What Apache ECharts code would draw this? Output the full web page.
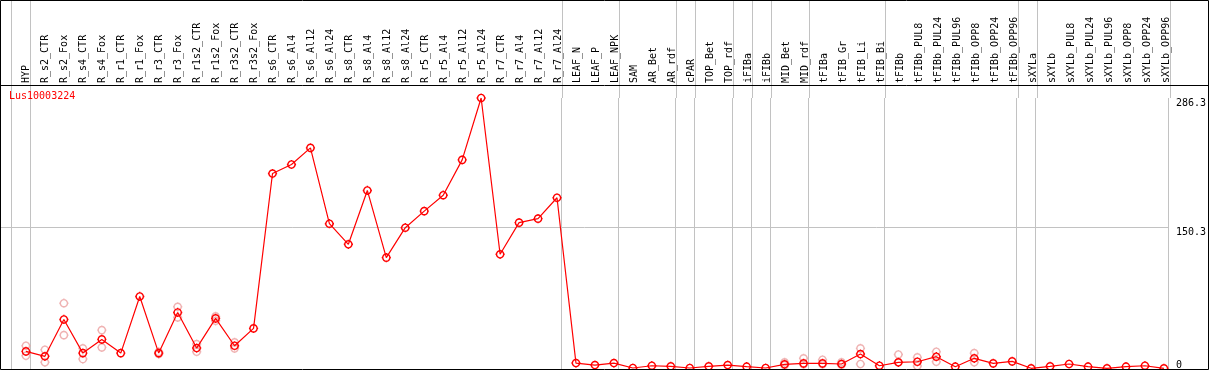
<!DOCTYPE html>
<html>
<head>
<meta charset="utf-8">
<script src="https://cdn.jsdelivr.net/npm/echarts@6/dist/echarts.min.js"></script>
<style>
html, body { margin: 0; padding: 0; background: #fff; }
#chart { width: 1209px; height: 370px; }
</style>
</head>
<body>
<div id="chart"></div>
<script>
const geneName = 'Lus10003224';

const categories = [
	'HYP', 'R_s2_CTR', 'R_s2_Fox', 'R_s4_CTR', 'R_s4_Fox', 'R_r1_CTR', 'R_r1_Fox', 'R_r3_CTR', 'R_r3_Fox',
	'R_r1s2_CTR', 'R_r1s2_Fox', 'R_r3s2_CTR', 'R_r3s2_Fox', 'R_s6_CTR', 'R_s6_Al4', 'R_s6_Al12', 'R_s6_Al24',
	'R_s8_CTR', 'R_s8_Al4', 'R_s8_Al12', 'R_s8_Al24', 'R_r5_CTR', 'R_r5_Al4', 'R_r5_Al12', 'R_r5_Al24',
	'R_r7_CTR', 'R_r7_Al4', 'R_r7_Al12', 'R_r7_Al24', 'LEAF_N', 'LEAF_P', 'LEAF_NPK', 'SAM', 'AR_Bet', 'AR_rdf',
	'cPAR', 'TOP_Bet', 'TOP_rdf', 'iFIBa', 'iFIBb', 'MID_Bet', 'MID_rdf', 'tFIBa', 'tFIB_Gr', 'tFIB_Li', 'tFIB_Bi',
	'tFIBb', 'tFIBb_PUL8', 'tFIBb_PUL24', 'tFIBb_PUL96', 'tFIBb_OPP8', 'tFIBb_OPP24', 'tFIBb_OPP96',
	'sXYLa', 'sXYLb', 'sXYLb_PUL8', 'sXYLb_PUL24', 'sXYLb_PUL96', 'sXYLb_OPP8', 'sXYLb_OPP24', 'sXYLb_OPP96'
];

// mean expression per sample
const expression = [
	19.6, 14.4, 53.2, 17.8, 32.2, 17.8, 77.4, 17.8, 60.6,
	23.1, 54.3, 25.5, 43.8, 206.8, 216.3, 233.8, 154.0,
	132.3, 189.0, 118.3, 149.8, 167.2, 184.0, 221.2, 286.3,
	121.8, 155.1, 159.3, 181.3, 7.3, 5.2, 7.3, 2.1, 4.5, 3.9,
	2.1, 3.9, 5.2, 3.5, 2.1, 6.0, 7.0, 7.0, 6.3, 16.8, 4.5,
	8.1, 8.7, 14.0, 3.5, 12.3, 7.0, 9.1,
	1.8, 3.9, 6.3, 3.5, 1.8, 3.5, 4.5, 1.8
];

// replicates (pale circles)
const repCategories = ['HYP', 'R_s2_CTR', 'R_s2_Fox', 'R_s4_CTR', 'R_s4_Fox', 'R_r3_CTR', 'R_r3_Fox', 'R_r1s2_CTR',
	'R_r1s2_Fox', 'R_r3s2_CTR', 'MID_Bet', 'MID_rdf', 'tFIBa', 'tFIB_Gr', 'tFIB_Li', 'tFIBb', 'tFIBb_PUL8',
	'tFIBb_PUL24', 'tFIBb_OPP8'];
const repHigh = [25.5, 21.3, 70.3, 22.8, 42.0, 19.0, 66.5, 27.3, 56.4, 29.1, 8.1, 12.3, 10.8, 8.1, 22.8, 16.3, 13.3, 19.2, 17.8];
const repLow = [15.0, 8.1, 36.7, 11.5, 23.8, 16.8, 55.3, 19.2, 51.8, 22.8, 5.0, 6.0, 6.0, 5.5, 6.3, 8.1, 4.2, 8.7, 8.1];

// group separators are drawn just after these category indices
const groupBreaks = [-1, 0, 28, 31, 34, 35, 37, 38, 39, 41, 45, 52, 53, 60];

const yTicks = [0, 150.3, 286.3];

// layout
const X0 = 26, STEP = 19, PLOT_RIGHT = 1171, TOP = 98, PLOT_H = 273;
const xMin = -X0 / STEP;
const xMax = (PLOT_RIGHT - X0) / STEP;
const FONT = 'DejaVu Sans Mono';

// circle with four short ticks
const MARK = 'path://M-3.6,0C-3.6,-2,-2,-3.6,0,-3.6C2,-3.6,3.6,-2,3.6,0C3.6,2,2,3.6,0,3.6C-2,3.6,-3.6,2,-3.6,0Z'
	+ 'M0,-4.6L0,-3.6M0,3.6L0,4.6M-4.6,0L-3.6,0M3.6,0L4.6,0';

const sepData = groupBreaks.map(i => ({xAxis: i + 0.23}));
const repData = [];
repCategories.forEach((c, k) => {
	const i = categories.indexOf(c);
	repData.push([i, repHigh[k]]);
	repData.push([i, repLow[k]]);
});

const sepLine = (extra) => ({
	silent: true,
	z: 1,
	symbol: ['none', 'none'],
	label: {show: false},
	lineStyle: {color: '#c2c2c2', width: 1, type: 'solid'},
	emphasis: {disabled: true},
	data: sepData.concat(extra)
});

const chart = echarts.init(document.getElementById('chart'));
chart.setOption({
	animation: false,
	title: {
		text: geneName,
		left: 9,
		top: 91,
		padding: 0,
		textStyle: {color: '#ff0000', fontFamily: FONT, fontSize: 10, fontWeight: 'normal'}
	},
	grid: [
		{left: X0 - STEP / 2, width: categories.length * STEP, top: TOP, height: PLOT_H},
		{left: 0, width: PLOT_RIGHT, top: TOP, height: PLOT_H},
		{left: 0, width: PLOT_RIGHT, top: 0, height: TOP}
	],
	xAxis: [
		{
			gridIndex: 0, type: 'category', position: 'top', data: categories, boundaryGap: true,
			axisLine: {show: false}, axisTick: {show: false},
			axisLabel: {interval: 0, rotate: 90, margin: 15, color: '#000', fontFamily: FONT, fontSize: 10}
		},
		{gridIndex: 1, type: 'value', min: xMin, max: xMax, show: false},
		{gridIndex: 2, type: 'value', min: xMin, max: xMax, show: false}
	],
	yAxis: [
		{gridIndex: 0, type: 'value', show: false},
		{
			gridIndex: 1, type: 'value', position: 'right',
			min: yTicks[0], max: yTicks[2], interval: yTicks[1],
			axisLine: {show: false}, axisTick: {show: false}, splitLine: {show: false},
			axisLabel: {
				align: 'left', margin: 7, verticalAlign: 'top', verticalAlignMinLabel: 'bottom',
				color: '#000', fontFamily: FONT, fontSize: 10
			}
		},
		{gridIndex: 2, type: 'value', min: 0, max: 1, show: false}
	],
	series: [
		{
			type: 'line', xAxisIndex: 1, yAxisIndex: 1, data: [], z: 1,
			markLine: sepLine([{yAxis: yTicks[1]}])
		},
		{
			type: 'line', xAxisIndex: 2, yAxisIndex: 2, data: [], z: 1,
			markLine: sepLine([])
		},
		{
			type: 'scatter', xAxisIndex: 1, yAxisIndex: 1, data: repData, z: 2,
			symbol: MARK, symbolSize: 9.2,
			itemStyle: {color: 'rgba(0,0,0,0)', borderColor: '#eb9f9f', borderWidth: 1.4}
		},
		{
			type: 'line', xAxisIndex: 1, yAxisIndex: 1, z: 3,
			data: expression.map((v, i) => [i, v]),
			symbol: MARK, symbolSize: 9.2,
			lineStyle: {color: '#ff0000', width: 1.2},
			itemStyle: {color: 'rgba(0,0,0,0)', borderColor: '#ff0000', borderWidth: 1.4}
		}
	],
	graphic: [
		{type: 'rect', z: 100, silent: true, shape: {x: 0.5, y: 0.5, width: 1208, height: 369},
			style: {fill: 'none', stroke: '#000', lineWidth: 1}},
		{type: 'line', z: 100, silent: true, shape: {x1: 0, y1: 85.5, x2: 1209, y2: 85.5},
			style: {stroke: '#000', lineWidth: 1}}
	]
});
</script>
</body>
</html>
